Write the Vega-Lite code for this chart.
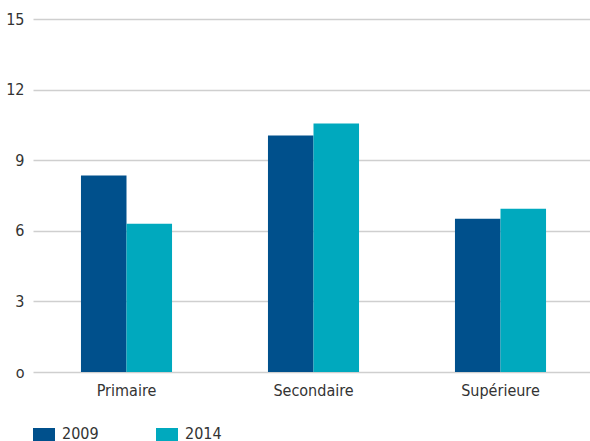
{
  "$schema": "https://vega.github.io/schema/vega-lite/v6.json",
  "width": 557,
  "height": 353,
  "autosize": {"type": "none"},
  "padding": {"left": 33, "top": 19, "right": 0, "bottom": 69},
  "background": "white",
  "config": {
    "view": {"stroke": null},
    "font": "DejaVu Sans Condensed, Liberation Sans Narrow, sans-serif"
  },
  "data": {
    "values": [
      {"niveau": "Primaire", "annee": "2009", "valeur": 8.35},
      {"niveau": "Primaire", "annee": "2014", "valeur": 6.3},
      {"niveau": "Secondaire", "annee": "2009", "valeur": 10.05},
      {"niveau": "Secondaire", "annee": "2014", "valeur": 10.56},
      {"niveau": "Supérieure", "annee": "2009", "valeur": 6.51},
      {"niveau": "Supérieure", "annee": "2014", "valeur": 6.94}
    ]
  },
  "mark": {"type": "bar"},
  "encoding": {
    "x": {
      "field": "niveau",
      "type": "nominal",
      "sort": ["Primaire", "Secondaire", "Supérieure"],
      "scale": {"range": [0, 561], "paddingInner": 0.513, "paddingOuter": 0.2565},
      "axis": {
        "title": null,
        "labelAngle": 0,
        "ticks": false,
        "domain": false,
        "labelPadding": 10,
        "labelFontSize": 16,
        "labelColor": "#333333"
      }
    },
    "xOffset": {"field": "annee", "type": "nominal", "sort": ["2009", "2014"]},
    "y": {
      "field": "valeur",
      "type": "quantitative",
      "scale": {"domain": [0, 15]},
      "axis": {
        "title": null,
        "values": [0, 3, 6, 9, 12, 15],
        "domain": false,
        "ticks": false,
        "gridColor": "#cfcfcf",
        "gridWidth": 1.5,
        "labelPadding": 9,
        "labelFontSize": 16,
        "labelColor": "#333333",
        "labelExpr": "datum.value == 0 ? 'o' : datum.label"
      }
    },
    "color": {
      "field": "annee",
      "type": "nominal",
      "scale": {"domain": ["2009", "2014"], "range": ["#00508c", "#00a9be"]},
      "legend": {
        "title": null,
        "orient": "none",
        "legendX": 0,
        "legendY": 409,
        "direction": "horizontal",
        "symbolType": "square",
        "symbolSize": 484,
        "symbolStrokeWidth": 0,
        "symbolOpacity": 1,
        "labelFontSize": 16,
        "labelColor": "#333333",
        "labelOffset": 7,
        "labelBaseline": "alphabetic",
        "columnPadding": 57
      }
    }
  }
}
